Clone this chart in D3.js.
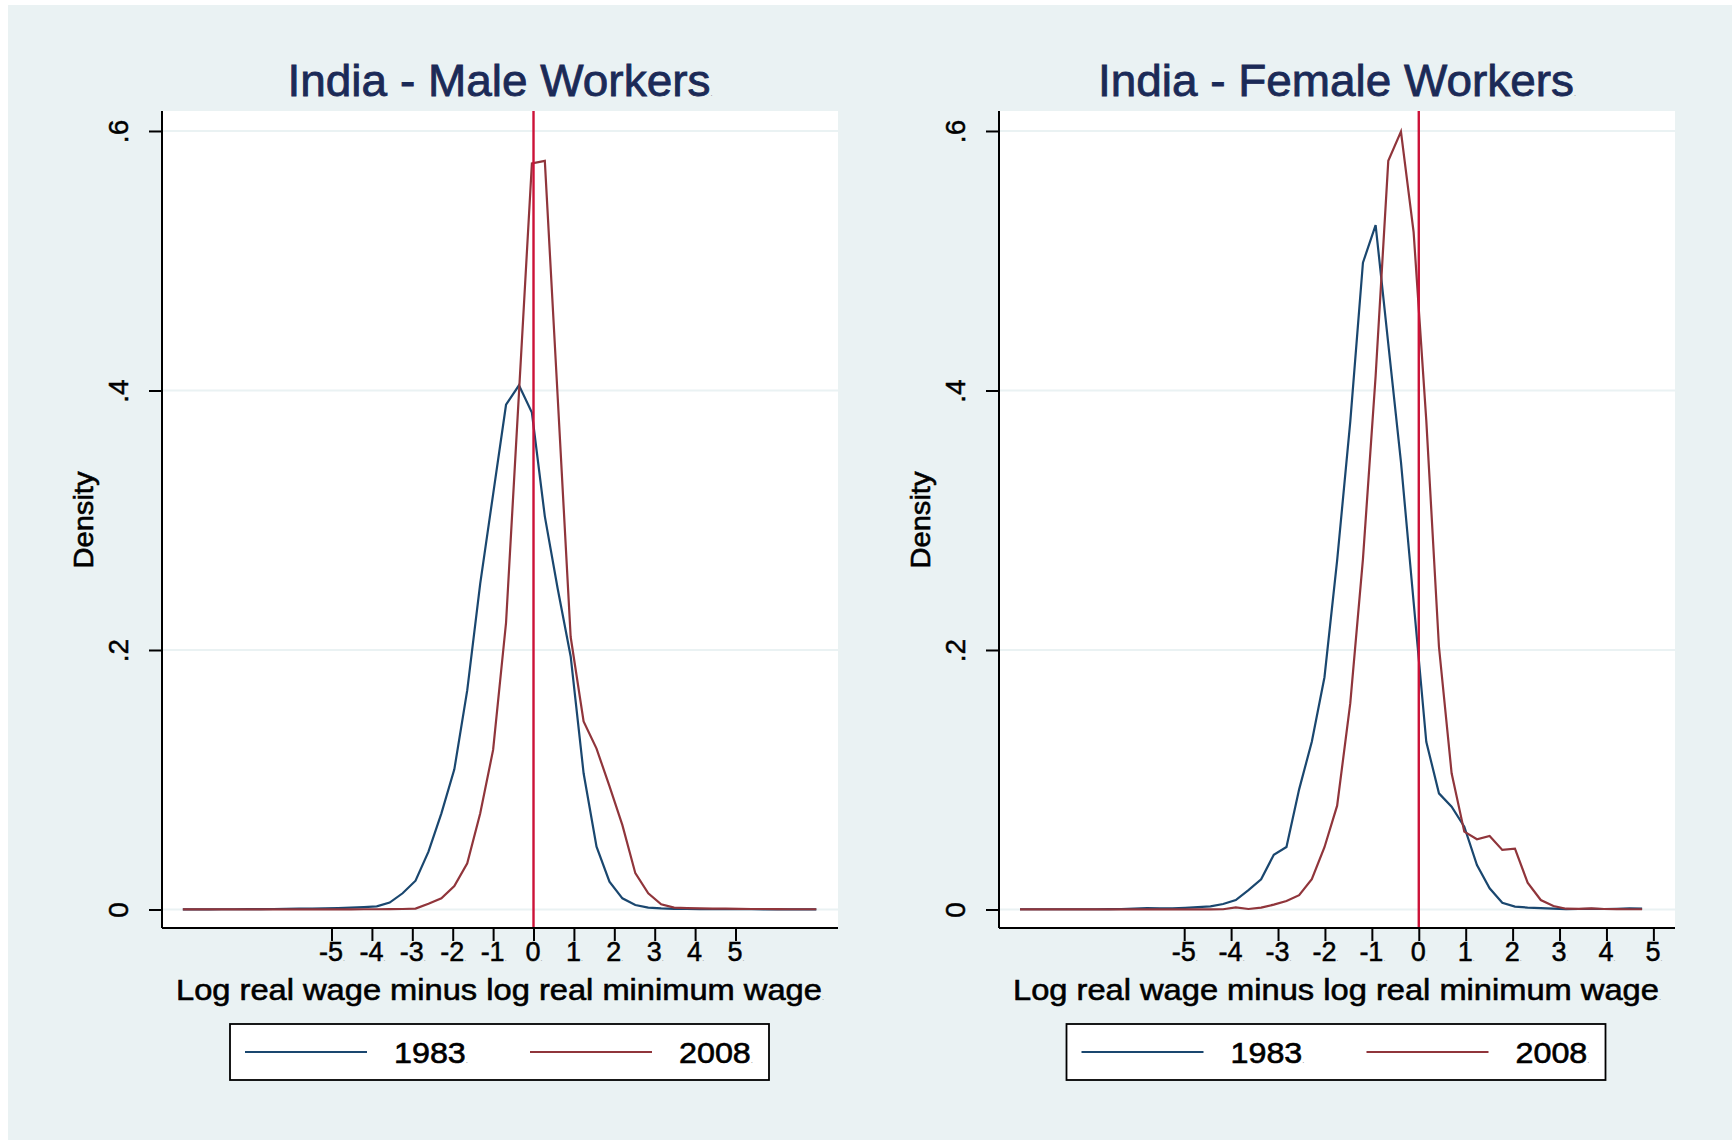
<!DOCTYPE html>
<html>
<head>
<meta charset="utf-8">
<script src="https://cdn.jsdelivr.net/npm/d3@7"></script>
<style>
  html, body { margin: 0; padding: 0; background: #ffffff; }
  svg { display: block; }
  text { font-family: "Liberation Sans", Arial, Helvetica, sans-serif; }
</style>
</head>
<body>
<svg id="chart" width="1732" height="1140"></svg>
<script>
// Kernel density evaluation points and estimates (log real wage minus log real minimum wage)
const maleX = [-8.68, -8.36, -8.04, -7.72, -7.40, -7.08, -6.76, -6.44, -6.12, -5.80,
               -5.48, -5.16, -4.84, -4.52, -4.20, -3.88, -3.56, -3.24, -2.92, -2.60,
               -2.28, -1.96, -1.64, -1.32, -1.00, -0.68, -0.36, -0.04, 0.28, 0.60,
               0.92, 1.24, 1.56, 1.88, 2.20, 2.52, 2.84, 3.16, 3.48, 3.80,
               4.12, 4.44, 4.76, 5.08, 5.40, 5.72, 6.04, 6.36, 6.68, 7.00];

const male1983 = [0.0001, 0.0001, 0.0001, 0.0002, 0.0002, 0.0003, 0.0003, 0.0004, 0.0005, 0.0006,
                  0.0007, 0.0009, 0.0011, 0.0014, 0.0018, 0.0024, 0.0053, 0.0125, 0.0222, 0.0446,
                  0.0741, 0.108, 0.169, 0.251, 0.320, 0.389, 0.404, 0.383, 0.303, 0.247,
                  0.195, 0.105, 0.0484, 0.0214, 0.0086, 0.0035, 0.0014, 0.0008, 0.0005, 0.0004,
                  0.0003, 0.0003, 0.0002, 0.0002, 0.0002, 0.0001, 0.0001, 0.0001, 0.0001, 0.0001];

const male2008 = [0.0001, 0.0001, 0.0001, 0.0001, 0.0001, 0.0001, 0.0001, 0.0001, 0.0001, 0.0001,
                  0.0001, 0.0001, 0.0001, 0.0001, 0.0002, 0.0002, 0.0003, 0.0004, 0.0007, 0.0045,
                  0.0086, 0.018, 0.0356, 0.074, 0.123, 0.221, 0.398, 0.575, 0.577, 0.394,
                  0.210, 0.145, 0.124, 0.095, 0.065, 0.028, 0.0125, 0.004, 0.0014, 0.001,
                  0.0008, 0.0007, 0.0006, 0.0005, 0.0004, 0.0004, 0.0003, 0.0002, 0.0002, 0.0002];

const femaleX = [-8.50, -8.23, -7.96, -7.69, -7.42, -7.15, -6.88, -6.61, -6.34, -6.06,
                 -5.79, -5.52, -5.25, -4.98, -4.71, -4.44, -4.17, -3.90, -3.63, -3.36,
                 -3.09, -2.82, -2.55, -2.28, -2.01, -1.74, -1.46, -1.19, -0.92, -0.65,
                 -0.38, -0.11, 0.16, 0.43, 0.70, 0.97, 1.24, 1.51, 1.78, 2.05,
                 2.32, 2.60, 2.87, 3.14, 3.41, 3.68, 3.95, 4.22, 4.49, 4.76];

const female1983 = [0.0002, 0.0002, 0.0002, 0.0002, 0.0002, 0.0002, 0.0002, 0.0003, 0.0004, 0.0007,
                    0.0011, 0.0008, 0.0009, 0.0013, 0.0018, 0.0024, 0.0042, 0.0073, 0.015, 0.0233,
                    0.0422, 0.0482, 0.0926, 0.1293, 0.179, 0.269, 0.376, 0.4985, 0.5275, 0.436,
                    0.345, 0.237, 0.1293, 0.0895, 0.0792, 0.0638, 0.0343, 0.0163, 0.0052, 0.0022,
                    0.0015, 0.0011, 0.0007, 0.0003, 0.0004, 0.0005, 0.0004, 0.0005, 0.0008, 0.0006];

const female2008 = [0.0001, 0.0001, 0.0001, 0.0001, 0.0001, 0.0001, 0.0001, 0.0001, 0.0001, 0.0001,
                    0.0001, 0.0001, 0.0001, 0.0001, 0.0001, 0.0001, 0.0002, 0.0017, 0.0004, 0.0014,
                    0.0038, 0.0065, 0.011, 0.0233, 0.048, 0.080, 0.159, 0.270, 0.411, 0.577,
                    0.5995, 0.522, 0.377, 0.2025, 0.105, 0.060, 0.0541, 0.0566, 0.0459, 0.0469,
                    0.0207, 0.0073, 0.0027, 0.0006, 0.0005, 0.0008, 0.0004, 0.0003, 0.0002, 0.0002];

const panelTitles = ["India - Male Workers", "India - Female Workers"];
const seriesNames = ["1983", "2008"];
const xTicks = [-5, -4, -3, -2, -1, 0, 1, 2, 3, 4, 5];
const xTickLabels = ["-5", "-4", "-3", "-2", "-1", "0", "1", "2", "3", "4", "5"];
const yTicks = [0, 0.2, 0.4, 0.6];
const yTickLabels = ["0", ".2", ".4", ".6"];
const xTitle = "Log real wage minus log real minimum wage";
const yTitle = "Density";
const refLine = 0;

// ---- styling ----
const BG = "#eaf2f3";
const GRID = "#eaf2f3";
const C1983 = "#1a476f";
const C2008 = "#90353b";
const CREF = "#cc1238";
const TITLE_COL = "#1b2a57";
const LINE_W = 2.2;

const svg = d3.select("#chart");
svg.append("rect").attr("x", 8).attr("y", 5).attr("width", 1732 - 8).attr("height", 1140 - 5).attr("fill", BG);

const plotTop = 111, plotBottom = 928;
const y = d3.scaleLinear().domain([-0.01426, 0.6154]).range([plotBottom, plotTop]);

const panels = [
  { title: panelTitles[0], titleLen: 425, xs: maleX, a: male1983, b: male2008,
    left: 162, right: 838, xDomain: [-9.196, 7.537], legendX: 230 },
  { title: panelTitles[1], titleLen: 478, xs: femaleX, a: female1983, b: female2008,
    left: 999, right: 1675, xDomain: [-8.947, 5.461], legendX: 1066.5 }
];

// text with a small trailing point, stretched to a given length
function label(g, str, x, yPos, size, len, opts = {}) {
  const fill = opts.fill || "#000";
  const t = g.append("text")
    .attr("x", x).attr("y", yPos)
    .attr("font-size", size)
    .attr("fill", fill)
    .attr("stroke", fill)
    .attr("stroke-width", opts.weight == null ? 0.6 : opts.weight)
    .attr("text-anchor", opts.anchor || "middle");
  if (opts.transform) t.attr("transform", opts.transform);
  t.append("tspan").text(str);
  if (opts.dot !== false) {
    t.append("tspan").attr("font-size", 7).attr("fill", "#888").attr("stroke", "none").text(".");
  }
  if (len) t.attr("textLength", len).attr("lengthAdjust", "spacingAndGlyphs");
  return t;
}

panels.forEach(p => {
  const g = svg.append("g");
  const x = d3.scaleLinear().domain(p.xDomain).range([p.left, p.right]);
  const cx = (p.left + p.right) / 2;

  // plot region
  g.append("rect").attr("x", p.left).attr("y", plotTop)
    .attr("width", p.right - p.left).attr("height", plotBottom - plotTop).attr("fill", "#ffffff");

  // horizontal grid
  g.selectAll("line.grid").data(yTicks).join("line")
    .attr("class", "grid")
    .attr("x1", p.left).attr("x2", p.right)
    .attr("y1", d => y(d)).attr("y2", d => y(d))
    .attr("stroke", GRID).attr("stroke-width", 2);

  // density curves
  const line = d3.line().x(d => x(d[0])).y(d => y(d[1]));
  [[p.a, C1983], [p.b, C2008]].forEach(([vals, col]) => {
    g.append("path")
      .datum(p.xs.map((v, i) => [v, vals[i]]))
      .attr("d", line)
      .attr("fill", "none")
      .attr("stroke", col)
      .attr("stroke-width", LINE_W)
      .attr("stroke-linejoin", "miter");
  });

  // reference line at zero
  g.append("line")
    .attr("x1", x(refLine)).attr("x2", x(refLine))
    .attr("y1", plotTop).attr("y2", plotBottom)
    .attr("stroke", CREF).attr("stroke-width", 2.4);

  // y axis
  const yAxis = g.append("g").attr("transform", `translate(${p.left},0)`)
    .call(d3.axisLeft(y).tickValues(yTicks).tickSize(13).tickSizeOuter(0)
      .tickFormat((d, i) => yTickLabels[i]));
  yAxis.select(".domain").attr("stroke", "#000").attr("stroke-width", 2)
    .attr("d", `M0,${plotBottom}V${plotTop}`);
  yAxis.selectAll(".tick line").attr("stroke", "#000").attr("stroke-width", 2);
  yAxis.selectAll(".tick text")
    .attr("x", null).attr("dy", null)
    .attr("transform", "translate(-34,0) rotate(-90)")
    .attr("text-anchor", "middle")
    .attr("font-size", 28)
    .attr("font-family", "Liberation Sans, Arial, sans-serif")
    .attr("fill", "#000").attr("stroke", "#000").attr("stroke-width", 0.5);

  // x axis
  const xAxis = g.append("g").attr("transform", `translate(0,${plotBottom})`)
    .call(d3.axisBottom(x).tickValues(xTicks).tickSize(13).tickSizeOuter(0)
      .tickFormat((d, i) => xTickLabels[i]));
  xAxis.select(".domain").attr("stroke", "#000").attr("stroke-width", 2)
    .attr("d", `M${p.left},0H${p.right}`);
  xAxis.selectAll(".tick line").attr("stroke", "#000").attr("stroke-width", 2);
  xAxis.selectAll(".tick text")
    .attr("y", 33).attr("dy", null)
    .attr("font-size", 27)
    .attr("font-family", "Liberation Sans, Arial, sans-serif")
    .attr("fill", "#000").attr("stroke", "#000").attr("stroke-width", 0.5)
    .append("tspan").attr("font-size", 7).attr("fill", "#888").attr("stroke", "none").text(".");

  // titles
  label(g, p.title, cx, 96, 44, p.titleLen, { fill: TITLE_COL, weight: 0.8 });
  label(g, xTitle, cx, 1000, 30, 648);
  label(g, yTitle, 0, 0, 27, 97, {
    dot: false,
    transform: `translate(${p.left - 69},520) rotate(-90)`
  });

  // legend
  const lg = g.append("g").attr("transform", `translate(${p.legendX},1024)`);
  lg.append("rect").attr("x", 0).attr("y", 0).attr("width", 539).attr("height", 56)
    .attr("fill", "#ffffff").attr("stroke", "#000").attr("stroke-width", 1.8);
  const items = [
    { name: seriesNames[0], col: C1983, lx: 15, tx: 164 },
    { name: seriesNames[1], col: C2008, lx: 300, tx: 449 }
  ];
  items.forEach(it => {
    lg.append("line").attr("x1", it.lx).attr("x2", it.lx + 122)
      .attr("y1", 28).attr("y2", 28)
      .attr("stroke", it.col).attr("stroke-width", LINE_W);
    label(lg, it.name, it.tx, 39, 29, 74, { anchor: "start" });
  });
});
</script>
</body>
</html>
